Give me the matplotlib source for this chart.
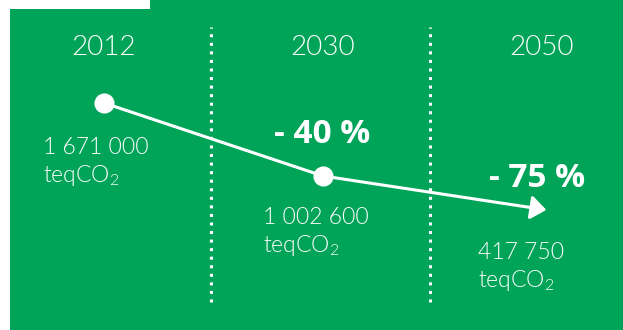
import numpy as np
import matplotlib
matplotlib.use("Agg")
import matplotlib.pyplot as plt
from matplotlib.patches import Rectangle
from matplotlib.transforms import blended_transform_factory

plt.rcParams["font.family"] = ["Lato", "DejaVu Sans"]
plt.rcParams["mathtext.fontset"] = "custom"
plt.rcParams["mathtext.rm"] = "Lato:weight=300"

# emissions per horizon (teqCO2)
years = ["2012", "2030", "2050"]
emissions = [1671000, 1002600, 417750]
value_labels = ["1 671 000", "1 002 600", "417 750"]

GREEN = "#00A459"
WHITE = "white"

fig = plt.figure(figsize=(6.23, 3.30), dpi=100)
fig.patch.set_facecolor(WHITE)

ax = fig.add_axes([0, 0, 1, 1])
ax.set_facecolor("none")
ax.axis("off")

# green panel with a white notch at the top left
ax.add_patch(Rectangle((10 / 623, 0), 613 / 623, 1, transform=ax.transAxes,
                       facecolor=GREEN, edgecolor="none", zorder=0))
ax.add_patch(Rectangle((10 / 623, 321 / 330), 140 / 623, 9 / 330, transform=ax.transAxes,
                       facecolor=WHITE, edgecolor="none", zorder=0.5))

x = np.arange(len(years))
y = np.array(emissions) / 1e6

# squared value scale
ax.set_yscale("function", functions=(lambda v: np.sign(v) * v ** 2,
                                     lambda v: np.sign(v) * np.sqrt(np.abs(v))))
ax.set_xlim(-104 / 219, 519 / 219)
ax.set_ylim(-1.663, 2.305)

# column separators
for xs in x[:-1] + 0.5:
    ax.axvline(xs - 0.01, ymin=28 / 330, ymax=303 / 330, color=WHITE, lw=2.2,
               linestyle=(0, (1, 1.8)), dash_capstyle="butt", zorder=1)

# trend line
ax.plot(x[:2], y[:2], color=WHITE, lw=2.2, zorder=3)
ax.annotate("", xy=(x[2] + 0.02, y[2]), xytext=(x[1], y[1]),
            arrowprops=dict(arrowstyle="-|>,head_length=0.47,head_width=0.36",
                            mutation_scale=20, color=WHITE, lw=2.2,
                            shrinkA=0, shrinkB=0), zorder=3)
ax.plot(x[:2], y[:2], "o", color=WHITE, markersize=13.5, zorder=4)

light = dict(color=WHITE, fontweight=300)

# year headers
trans = blended_transform_factory(ax.transData, ax.transAxes)
for xi, yr in zip(x, years):
    ax.text(xi, 1 - 55 / 330, yr, transform=trans, ha="center", va="baseline",
            fontsize=20, **light)

# value labels
offsets = [(-61, -51), (-60, -48), (-64, -49)]
for xi, yi, lab, (dx, dy) in zip(x, y, value_labels, offsets):
    ax.annotate(lab, (xi, yi), xytext=(dx, dy), textcoords="offset pixels",
                ha="left", va="baseline", fontsize=16.5, **light)
    ax.annotate(r"teqCO$_\mathrm{2}$", (xi, yi), xytext=(dx, dy - 28),
                textcoords="offset pixels", ha="left", va="baseline",
                fontsize=16.5, **light)

# reductions relative to 2012
pct_offsets = [(-1, 33), (-5, 23)]
for xi, yi, val, (dx, dy) in zip(x[1:], y[1:], emissions[1:], pct_offsets):
    pct = round((1 - val / emissions[0]) * 100)
    ax.annotate(f"- {pct} %", (xi, yi), xytext=(dx, dy), textcoords="offset pixels",
                ha="center", va="baseline", fontsize=24, fontweight="bold",
                family=["Open Sans", "DejaVu Sans"], color=WHITE)

fig.savefig("out.png", dpi=100, facecolor=fig.get_facecolor())
